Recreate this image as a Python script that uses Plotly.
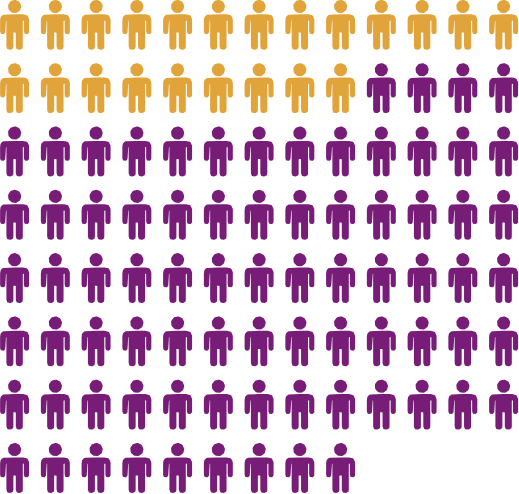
import math
import plotly.graph_objects as go

categories = ["Gold group", "Purple group"]
counts = [22, 78]
colors = ["#E1A43B", "#771D78"]
columns = 13
pitch_x = 40.75
pitch_y = 63.3
cx0 = 14.6

# half outline of one person, relative to the head axis: (x, y, corner radius)
half = [(0, 14.3, 0), (-14.5, 14.3, 6), (-14.5, 34.2, 2.6), (-9.3, 34.2, 2.6), (-9.3, 20.5, 0.4),
        (-8.2, 20.5, 0.4), (-8.2, 49.8, 3.2), (-1.2, 49.8, 3.2), (-1.2, 32.5, 0.3), (0, 32.5, 0)]
outline = half + [(-x, y, r) for x, y, r in reversed(half[:-1])][:-1]


def rounded(pts):
    out = []
    n = len(pts)
    for i, (x, y, r) in enumerate(pts):
        if r == 0:
            out.append((x, y))
            continue
        px, py, _ = pts[i - 1]
        nx, ny, _ = pts[(i + 1) % n]
        d1 = math.hypot(px - x, py - y)
        d2 = math.hypot(nx - x, ny - y)
        r1 = min(r, d1 / 2, d2 / 2)
        a = (x + (px - x) / d1 * r1, y + (py - y) / d1 * r1)
        b = (x + (nx - x) / d2 * r1, y + (ny - y) / d2 * r1)
        for k in range(9):
            t = k / 8
            # quadratic curve round the corner
            out.append(((1 - t) ** 2 * a[0] + 2 * t * (1 - t) * x + t ** 2 * b[0],
                        (1 - t) ** 2 * a[1] + 2 * t * (1 - t) * y + t ** 2 * b[1]))
    return out


body = rounded(outline)
head = [(6.6 * math.cos(2 * math.pi * k / 36), 6.5 + 6.6 * math.sin(2 * math.pi * k / 36)) for k in range(36)]

fig = go.Figure()
index = 0
for name, count, color in zip(categories, counts, colors):
    xs, ys = [], []
    for _ in range(count):
        row, col = divmod(index, columns)
        ox = cx0 + col * pitch_x
        oy = row * pitch_y
        for part in (body, head):
            closed = part + part[:1]
            xs += [ox + p[0] for p in closed] + [None]
            ys += [oy + p[1] for p in closed] + [None]
        index += 1
    fig.add_trace(go.Scatter(x=xs, y=ys, mode="lines", fill="toself", fillcolor=color,
                             line=dict(width=0, color=color), name=name, hoverinfo="skip"))

fig.update_layout(width=519, height=494, margin=dict(l=0, r=0, t=0, b=0),
                  paper_bgcolor="white", plot_bgcolor="white", showlegend=False)
fig.update_xaxes(range=[0, 519], visible=False, fixedrange=True)
fig.update_yaxes(range=[494, 0], visible=False, fixedrange=True)
fig.write_html("out.html", config=dict(displayModeBar=False),
               post_script="document.body.style.margin='0';document.documentElement.style.overflow='hidden';")
